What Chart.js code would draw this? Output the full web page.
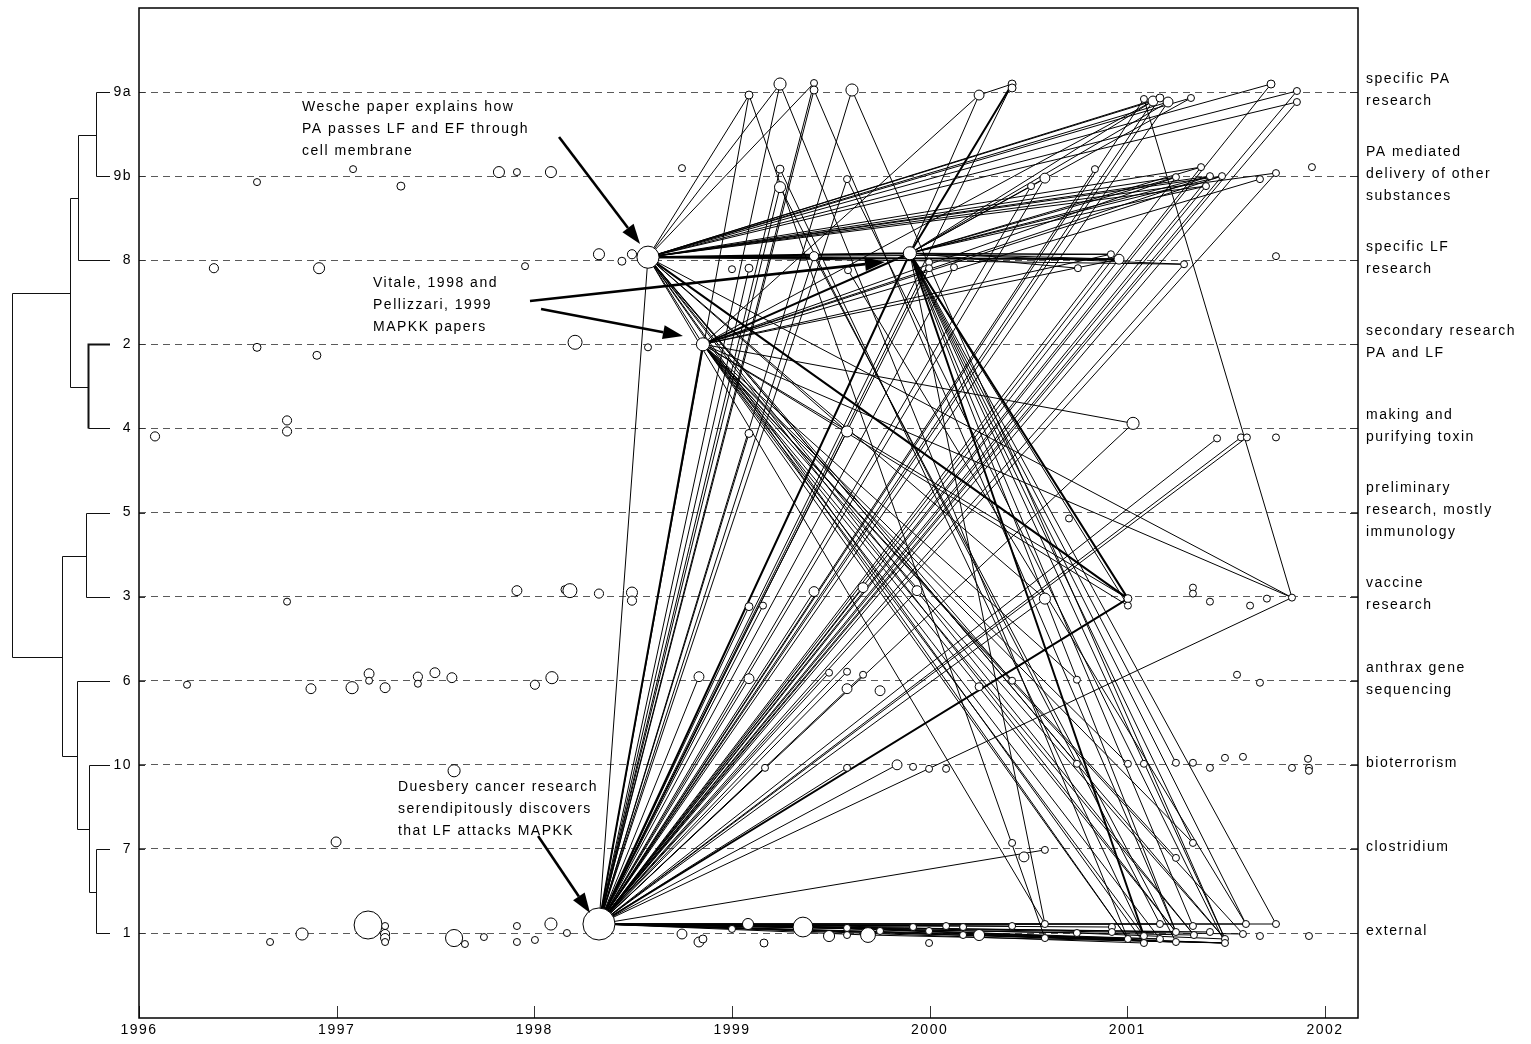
<!DOCTYPE html>
<html><head><meta charset="utf-8">
<script src="https://cdn.jsdelivr.net/npm/chart.js"></script>
<style>html,body{margin:0;padding:0;background:#fff;}canvas{display:block;}</style>
</head><body>
<canvas id="c" width="1531" height="1044"></canvas>
<script>
// ---------------- DATA ----------------
// research-cluster rows, bottom to top
const rowOrder = ['1','7','10','6','3','5','4','2','8','9b','9a'];
const rowDescriptions = [
  ['external'], ['clostridium'], ['bioterrorism'], ['anthrax gene','sequencing'],
  ['vaccine','research'], ['preliminary','research, mostly','immunology'],
  ['making and','purifying toxin'], ['secondary research','PA and LF'],
  ['specific LF','research'], ['PA mediated','delivery of other','substances'],
  ['specific PA','research']
];
const yearTicks = [1996,1997,1998,1999,2000,2001,2002];

// papers per row: [publication year, within-row offset, times cited]
const papers9a = [
 [1999.086,-0.036,1.3],[1999.243,0.095,3],[1999.415,0.107,1],[1999.415,0.024,1.3],
 [1999.607,0.024,3],[2000.250,-0.036,2],[2000.417,0.095,1.3],[2000.417,0.048,1.3],
 [2001.084,-0.083,1],[2001.130,-0.107,2],[2001.165,-0.071,1.3],[2001.206,-0.119,2],
 [2001.322,-0.071,1],[2001.727,0.095,1.3],[2001.858,0.012,1],[2001.858,-0.119,1]];
const papers9b = [
 [1996.597,-0.071,1],[1997.083,0.083,1],[1997.325,-0.119,1.3],[1997.821,0.048,2.5],
 [1997.912,0.048,1],[1998.084,0.048,2.5],[1998.747,0.095,1],[1999.243,0.083,1.3],
 [1999.243,-0.131,2.5],[1999.582,-0.036,1],[2000.513,-0.119,1],[2000.583,-0.024,2],
 [2000.836,0.083,1],[2001.246,-0.012,1],[2001.373,0.107,1],[2001.398,-0.119,1],
 [2001.418,0,1],[2001.479,0,1],[2001.671,-0.036,1],[2001.752,0.036,1],[2001.934,0.107,1]];
const papers8 = [
 [1996.379,-0.095,1.7],[1996.911,-0.095,2.5],[1997.953,-0.071,1],[1998.327,0.071,2.5],
 [1998.443,-0.012,1.3],[1998.494,0.071,1.7],[1998.575,0.036,10],[1999.000,-0.107,1],
 [1999.086,-0.095,1.3],[1999.415,0.048,1.7],[1999.587,-0.119,1],[1999.900,0.083,3.5],
 [1999.997,-0.024,1],[1999.997,-0.095,1],[2000.123,-0.083,1],[2000.750,-0.095,1],
 [2000.917,0.071,1],[2000.958,0.012,2],[2001.287,-0.048,1],[2001.752,0.048,1]];
const papers2 = [
 [1996.597,-0.036,1.3],[1996.900,-0.131,1.3],[1998.206,0.024,4],[1998.575,-0.036,1],[1998.853,0,3.5]];
const papers4 = [
 [1996.081,-0.095,1.7],[1996.749,0.095,1.7],[1996.749,-0.036,1.7],[1999.086,-0.060,1.3],
 [1999.582,-0.036,2.5],[2001.029,0.060,3],[2001.454,-0.119,1],[2001.575,-0.107,1],
 [2001.605,-0.107,1],[2001.752,-0.107,1]];
const papers5 = [[2000.705,-0.071,1]];
const papers3 = [
 [1996.749,-0.060,1],[1997.912,0.071,2],[1998.155,0.083,1.3],[1998.180,0.071,4],
 [1998.327,0.036,1.7],[1998.494,0.048,2.5],[1998.494,-0.048,1.7],[1999.086,-0.119,1.3],
 [1999.157,-0.107,1],[1999.415,0.060,2],[1999.663,0.107,2],[1999.936,0.071,2],
 [2000.583,-0.024,2.5],[2001.003,-0.024,1.3],[2001.003,-0.107,1],[2001.332,0.107,1],
 [2001.332,0.036,1],[2001.418,-0.060,1],[2001.621,-0.107,1],[2001.706,-0.024,1],[2001.833,-0.012,1]];
const papers6 = [
 [1996.243,-0.048,1],[1996.870,-0.095,2],[1997.078,-0.083,3],[1997.164,0.083,2],
 [1997.164,0,1],[1997.245,-0.083,2],[1997.411,0.048,1.7],[1997.411,-0.036,1],
 [1997.497,0.095,2],[1997.583,0.036,2],[1998.003,-0.048,1.7],[1998.089,0.036,3],
 [1998.833,0.048,2],[1999.086,0.024,2],[1999.491,0.095,1],[1999.582,0.107,1],
 [1999.582,-0.095,2],[1999.663,0.071,1],[1999.749,-0.119,2],[2000.250,-0.071,1.3],
 [2000.417,0,1],[2000.745,0.012,1],[2001.555,0.071,1],[2001.671,-0.024,1]];
const papers10 = [
 [1997.594,-0.071,3],[1999.167,-0.036,1],[1999.582,-0.036,1],[1999.835,0,2],
 [1999.916,-0.024,1],[1999.997,-0.048,1],[2000.083,-0.048,1],[2000.745,0.012,1],
 [2001.003,0.012,1],[2001.084,0.012,1],[2001.246,0.024,1],[2001.332,0.024,1],
 [2001.418,-0.036,1],[2001.494,0.083,1],[2001.585,0.095,1],[2001.833,-0.036,1],
 [2001.914,0.071,1],[2001.919,-0.036,1],[2001.919,-0.071,1]];
const papers7 = [
 [1996.997,0.083,2],[2000.417,0.071,1],[2000.477,-0.095,2],[2000.583,-0.012,1],
 [2001.246,-0.107,1],[2001.332,0.071,1]];
const papers1 = [
 [1996.663,-0.107,1],[1996.825,-0.012,3],[1997.159,0.095,16],[1997.245,0.083,1],
 [1997.245,-0.012,1.7],[1997.245,-0.060,1.7],[1997.245,-0.107,1],[1997.594,-0.060,6],
 [1997.649,-0.131,1],[1997.745,-0.048,1],[1997.912,0.083,1],[1997.912,-0.107,1],
 [1998.003,-0.083,1],[1998.084,0.107,3],[1998.165,0,1],[1998.327,0.107,21],
 [1998.747,-0.012,2],[1998.833,-0.107,2],[1998.853,-0.071,1.3],[1999.000,0.048,1],
 [1999.081,0.107,2.5],[1999.162,-0.119,1.3],[1999.359,0.071,8],[1999.491,-0.036,2.5],
 [1999.582,0.060,1],[1999.582,-0.024,1],[1999.688,-0.024,4.5],[1999.749,0.024,1],
 [1999.916,0.071,1],[1999.997,0.024,1],[1999.997,-0.119,1],[2000.083,0.083,1],
 [2000.169,0.071,1],[2000.169,-0.024,1],[2000.250,-0.024,2.5],[2000.417,0.083,1],
 [2000.583,0.107,1],[2000.583,-0.060,1],[2000.745,0,1],[2000.922,0.071,1],
 [2000.922,0.012,1],[2001.003,-0.071,1],[2001.084,-0.036,1],[2001.084,-0.119,1],
 [2001.165,0.107,1],[2001.165,-0.071,1],[2001.246,0.012,1],[2001.246,-0.107,1],
 [2001.332,0.083,1],[2001.337,-0.024,1],[2001.418,0.012,1],[2001.494,-0.071,1],
 [2001.494,-0.119,1],[2001.585,-0.012,1],[2001.600,0.107,1],[2001.671,-0.036,1],
 [2001.752,0.107,1],[2001.919,-0.036,1]];

// citation links ("row.index" keys)
const hubA = '1.15', hubB = '8.6', hubC = '2.4', hubD = '8.11';
const linksA = ['9a.0','9a.1','9a.2','9a.3','9a.4','9a.6','9a.8','9a.9','9a.10','9a.11','9a.13','9a.14','9a.15',
 '9b.7','9b.8','9b.9','9b.10','9b.11','9b.12','9b.13','9b.14','9b.15','9b.16','9b.17','9b.19',
 '8.6','8.8','8.9','8.12','8.13','8.14','8.16','8.17','8.18',
 '4.3','4.4','4.5','4.6','4.7','4.8','3.7','3.8','3.9','3.10','3.11','3.12','3.20',
 '6.12','6.13','6.14','6.15','6.17','10.1','10.2','10.3','7.3',
 '1.20','1.22','1.26','1.28','1.31','1.35','1.36','1.38','1.39','1.41','1.43','1.44','1.45','1.46',
 '1.47','1.49','1.50','1.52','1.53','1.54','1.56'];
const strongA = ['8.11','2.4','3.13'];
const linksB = ['9a.0','9a.1','9a.2','9a.9','9a.10','9a.11','9a.12','9a.13','9a.14','9a.15',
 '9b.13','9b.14','9b.15','9b.16','9b.17','9b.19','8.9','8.16','8.18','2.4','3.20',
 '1.41','1.43','1.46','1.51','3.12','4.4','6.20','10.7','1.36','1.49'];
const strongB = ['8.11','8.17','3.13'];
const linksC = ['9a.5','9a.9','9b.13','9b.16','9b.17','9b.18','8.16','8.17','3.13','3.14','3.20',
 '1.41','1.42','1.45','1.46','1.49','1.51','1.53','6.21','10.8','7.4','7.5','4.5'];
const strongC = ['8.11'];
const linksD = ['9a.5','9a.9','9a.11','9a.12','9b.11','9b.13','9b.14','9b.15','9b.16','9b.17',
 '8.15','8.16','8.17','8.18','3.14','1.46','1.48','1.51','1.54','1.56','1.36','10.10','7.5'];
const strongD = ['9a.6','3.13','1.42'];
const otherLinks = [['9a.0','1.37'],['9a.1','1.41'],['9a.3','1.46'],['9a.4','1.51'],['9b.7','1.42'],
 ['9b.8','1.44'],['9b.9','1.52'],['8.9','1.47'],['8.10','1.54'],['9a.8','3.20'],['9a.5','9a.6'],
 ['1.22','1.52'],['1.26','1.52'],['1.34','1.52'],['1.34','1.47'],['1.22','1.45'],['1.38','1.51'],['1.20','1.41']];

// dendrogram merges: [child, child, linkage height]; 'nK' = result of merge K
const dendroMerges = [['9a','9b',14],['n0','8',32],['2','4',22],['n1','n2',40],['5','3',24],
 ['7','1',14],['10','n5',21],['6','n6',33],['n4','n7',48],['n3','n8',98]];

// annotations (data coordinates)
const noteWesche = ['Wesche paper explains how','PA passes LF and EF through','cell membrane'];
const noteVitale = ['Vitale, 1998 and','Pellizzari, 1999','MAPKK papers'];
const noteDuesbery = ['Duesbery cancer research','serendipitously discovers','that LF attacks MAPKK'];
const noteAnchors = [[1996.825,9.82],[1997.184,7.729],[1997.31,1.736]];
const noteArrows = [[1998.125,9.465,1998.535,8.193],[1997.978,7.515,1999.774,7.979],
 [1998.034,7.420,1998.752,7.099],[1998.019,1.153,1998.282,0.238]];

// ---------------- BUILD ----------------
const FONT = "'Liberation Sans', Arial, sans-serif";
const rowTables = [papers1,papers7,papers10,papers6,papers3,papers5,papers4,papers2,papers8,papers9b,papers9a];
const nodeIndex = {}; const nodePoints = [];
rowOrder.forEach((name, ri) => rowTables[ri].forEach((p, i) => {
  const pt = {x: p[0], y: ri + p[1], c: p[2]};
  nodeIndex[name + '.' + i] = pt; nodePoints.push(pt);
}));
const hubPairs = (hub, list) => list.map(t => [hub, t]);
const thinPairs = [...hubPairs(hubA, linksA), ...hubPairs(hubB, linksB), ...hubPairs(hubC, linksC),
  ...hubPairs(hubD, linksD), ...otherLinks];
const thickPairs = [...hubPairs(hubA, strongA), ...hubPairs(hubB, strongB), ...hubPairs(hubC, strongC),
  ...hubPairs(hubD, strongD)];
function segments(pairs) {
  const out = [];
  pairs.forEach(([a, b]) => {
    const p = nodeIndex[a], q = nodeIndex[b];
    if (!p || !q) return;
    out.push({x: p.x, y: p.y}, {x: q.x, y: q.y}, {x: null, y: null});
  });
  return out;
}
const radiusOf = c => (c.raw && c.raw.c) ? 3.5 * Math.sqrt(c.raw.c) : 0;

function arrow(ctx, x1, y1, x2, y2) {
  const ang = Math.atan2(y2 - y1, x2 - x1), L = 20, W = 7;
  const bx = x2 - L * Math.cos(ang), by = y2 - L * Math.sin(ang);
  ctx.lineWidth = 2.6; ctx.beginPath(); ctx.moveTo(x1, y1); ctx.lineTo(bx, by); ctx.stroke();
  ctx.beginPath(); ctx.moveTo(x2, y2);
  ctx.lineTo(bx + W * Math.sin(ang), by - W * Math.cos(ang));
  ctx.lineTo(bx - W * Math.sin(ang), by + W * Math.cos(ang));
  ctx.closePath(); ctx.fill();
}

const decor = {
  id: 'decor',
  beforeDraw(chart) { chart.ctx.letterSpacing = '1.5px'; },
  afterDatasetsDraw(chart) {
    const {ctx, scales: {x, y}} = chart;
    ctx.save();
    ctx.strokeStyle = '#000'; ctx.fillStyle = '#000';
    noteArrows.forEach(a => arrow(ctx, x.getPixelForValue(a[0]), y.getPixelForValue(a[1]),
      x.getPixelForValue(a[2]), y.getPixelForValue(a[3])));
    ctx.letterSpacing = '1.5px';
    ctx.font = '14px ' + FONT; ctx.textAlign = 'left'; ctx.textBaseline = 'middle';
    [noteWesche, noteVitale, noteDuesbery].forEach((lines, k) => {
      const px = x.getPixelForValue(noteAnchors[k][0]), py = y.getPixelForValue(noteAnchors[k][1]);
      lines.forEach((t, i) => ctx.fillText(t, px, py + i * 22));
    });
    ctx.restore();
  },
  afterDraw(chart) {
    const {ctx, chartArea: a, scales: {x, y}} = chart;
    ctx.save();
    ctx.strokeStyle = '#333'; ctx.lineWidth = 1;
    yearTicks.forEach(v => {
      const px = Math.round(x.getPixelForValue(v)) + 0.5;
      ctx.beginPath(); ctx.moveTo(px, a.bottom); ctx.lineTo(px, a.bottom - 12); ctx.stroke();
    });
    rowOrder.forEach((_, i) => {
      const py = Math.round(y.getPixelForValue(i)) + 0.5;
      ctx.beginPath(); ctx.moveTo(a.left, py); ctx.lineTo(a.left + 6, py);
      ctx.moveTo(a.right, py); ctx.lineTo(a.right - 8, py); ctx.stroke();
    });
    ctx.strokeStyle = '#000'; ctx.lineWidth = 1.5;
    ctx.strokeRect(a.left, a.top, a.right - a.left, a.bottom - a.top);
    // dendrogram
    const leafEnd = a.left - 29;
    const pos = {};
    rowOrder.forEach((n, i) => { pos[n] = {x: leafEnd, y: Math.round(y.getPixelForValue(i)) + 0.5}; });
    ctx.strokeStyle = '#111'; ctx.lineWidth = 1;
    dendroMerges.forEach(([p, q, h], k) => {
      const A = pos[p], B = pos[q], xm = Math.round(leafEnd - h) + 0.5;
      const strong = (p === '2' && q === '4');
      ctx.lineWidth = strong ? 2 : 1;
      ctx.beginPath(); ctx.moveTo(A.x, A.y); ctx.lineTo(xm, A.y); ctx.lineTo(xm, B.y); ctx.stroke();
      ctx.lineWidth = 1;
      ctx.beginPath(); ctx.moveTo(xm, B.y); ctx.lineTo(B.x, B.y); ctx.stroke();
      pos['n' + k] = {x: xm, y: Math.round((A.y + B.y) / 2) + 0.5};
    });
    ctx.restore();
  }
};

const rowTicks = s => { s.ticks = rowOrder.map((_, i) => ({value: i})); };
const noPad = s => { s.paddingTop = 0; s.paddingBottom = 0; s.paddingLeft = 0; s.paddingRight = 0; };

new Chart(document.getElementById('c'), {
  type: 'scatter',
  data: {
    datasets: [
      {label: 'papers', data: nodePoints, pointRadius: radiusOf, pointHoverRadius: radiusOf,
       pointBackgroundColor: '#fff', pointBorderColor: '#000', pointBorderWidth: 1,
       pointHoverBorderWidth: 1, order: 0},
      {label: 'key citations', data: segments(thickPairs), showLine: true, spanGaps: false,
       borderColor: '#000', borderWidth: 2, pointRadius: 0, pointHoverRadius: 0, order: 1},
      {label: 'citations', data: segments(thinPairs), showLine: true, spanGaps: false,
       borderColor: '#000', borderWidth: 1, pointRadius: 0, pointHoverRadius: 0, order: 2}
    ]
  },
  options: {
    responsive: false, animation: false, devicePixelRatio: 1, events: [],
    layout: {autoPadding: false, padding: {top: 8, left: 0, right: 0, bottom: 0}},
    plugins: {legend: {display: false}, tooltip: {enabled: false}},
    scales: {
      x: {type: 'linear', position: 'bottom', min: 1996, max: 2002.167,
          afterBuildTicks: s => { s.ticks = yearTicks.map(v => ({value: v})); },
          ticks: {font: {family: FONT, size: 14}, color: '#000', padding: 4, autoSkip: false,
                  maxRotation: 0, minRotation: 0, callback: v => String(v)},
          grid: {display: false, drawTicks: false}, border: {display: false},
          afterFit: s => { s.height = 26; noPad(s); }},
      y: {type: 'linear', position: 'left', min: -1.0107, max: 10.999,
          afterBuildTicks: rowTicks,
          ticks: {font: {family: FONT, size: 14}, color: '#000', padding: 7, autoSkip: false,
                  callback: v => rowOrder[v]},
          grid: {color: '#5a5a5a', lineWidth: 1, drawTicks: false},
          border: {display: false, dash: [7, 5]},
          afterFit: s => { s.width = 139; noPad(s); }},
      yR: {type: 'linear', position: 'right', min: -1.0107, max: 10.999,
           afterBuildTicks: rowTicks,
           ticks: {font: {family: FONT, size: 14, lineHeight: 1.5714}, color: '#000', padding: 8,
                   autoSkip: false, labelOffset: -2, callback: v => rowDescriptions[v]},
           grid: {display: false, drawTicks: false}, border: {display: false},
           afterFit: s => { s.width = 173; noPad(s); }}
    }
  },
  plugins: [decor]
});
</script>
</body></html>
